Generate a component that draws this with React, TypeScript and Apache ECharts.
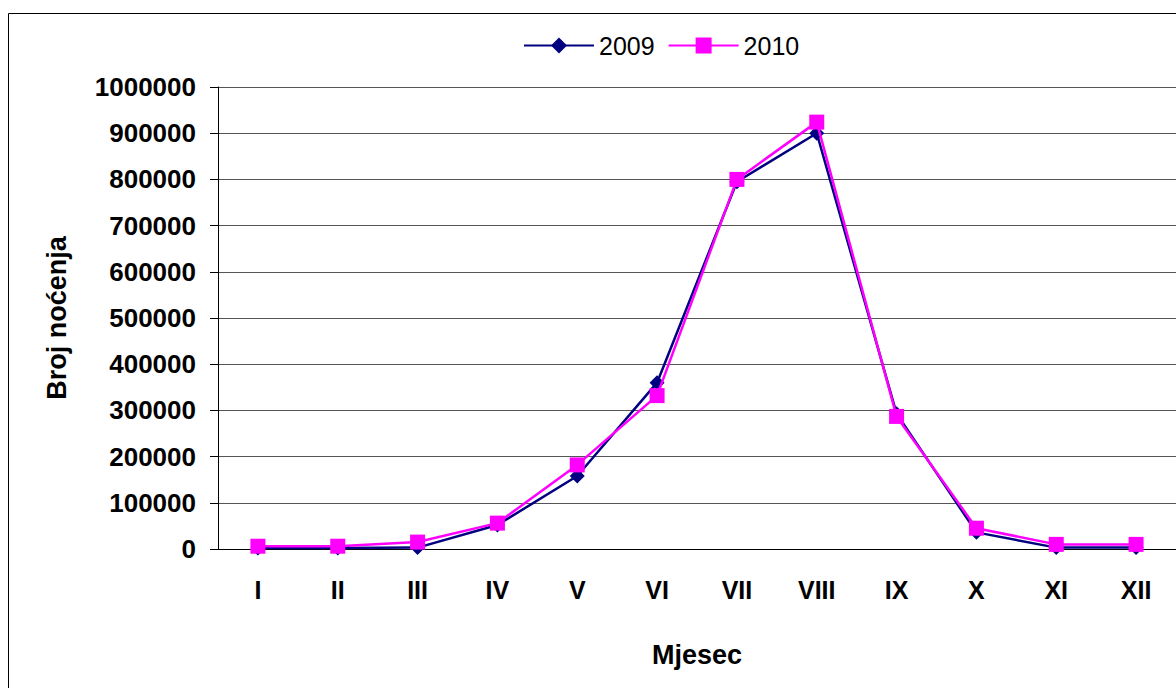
import React, { useEffect, useRef } from "react";
import * as echarts from "echarts";

const months = ["I", "II", "III", "IV", "V", "VI", "VII", "VIII", "IX", "X", "XI", "XII"];
const series2009 = [2000, 2000, 3000, 52000, 158000, 360000, 795000, 900000, 293000, 36000, 3000, 3000];
const series2010 = [6000, 6000, 15000, 56000, 182000, 332000, 800000, 924000, 287000, 45000, 10000, 10000];
const yTicks = { min: 0, max: 1000000, interval: 100000 };

const FONT = "'Liberation Sans', Arial, sans-serif";

export default function App() {
  const ref = useRef<HTMLDivElement>(null);
  useEffect(() => {
    if (!ref.current) return;
    const chart = echarts.init(ref.current, undefined, { renderer: "svg" });
    chart.setOption({
      animation: false,
      backgroundColor: "#ffffff",
      textStyle: { fontFamily: FONT },
      graphic: [
        {
          type: "rect",
          shape: { x: 8.5, y: 13.5, width: 1300, height: 800 },
          style: { fill: "none", stroke: "#000", lineWidth: 1 },
          silent: true,
        },
      ],
      legend: {
        top: 28,
        left: 518,
        itemWidth: 70,
        itemHeight: 20,
        itemGap: 13,
        textStyle: { fontSize: 25, color: "#000", fontFamily: FONT },
        data: ["2009", "2010"],
      },
      grid: { left: 218, right: 0, top: 87, bottom: 139, containLabel: false },
      xAxis: {
        type: "category",
        data: months,
        boundaryGap: true,
        name: "Mjesec",
        nameLocation: "middle",
        nameGap: 92,
        nameTextStyle: { fontSize: 27, fontWeight: "bold", color: "#000", fontFamily: FONT },
        axisLine: { lineStyle: { color: "#000", width: 1 } },
        axisTick: { length: 8, lineStyle: { color: "#000" } },
        axisLabel: { fontSize: 25, fontWeight: "bold", color: "#000", margin: 28, fontFamily: FONT },
      },
      yAxis: {
        type: "value",
        min: yTicks.min,
        max: yTicks.max,
        interval: yTicks.interval,
        name: "Broj noćenja",
        nameLocation: "middle",
        nameGap: 148,
        nameRotate: 90,
        nameTextStyle: { fontSize: 27, fontWeight: "bold", color: "#000", fontFamily: FONT },
        axisLine: { show: true, lineStyle: { color: "#000", width: 1 } },
        axisTick: { show: true, length: 8, lineStyle: { color: "#000" } },
        axisLabel: {
          fontSize: 26,
          fontWeight: "bold",
          color: "#000",
          margin: 22,
          fontFamily: FONT,
          formatter: (v: number) => String(v),
        },
        splitLine: { lineStyle: { color: "#555", width: 1 } },
      },
      series: [
        {
          name: "2009",
          type: "line",
          data: series2009,
          symbol: "diamond",
          symbolSize: 15,
          color: "#000080",
          lineStyle: { color: "#000080", width: 2.5 },
          itemStyle: { color: "#000080" },
          z: 2,
        },
        {
          name: "2010",
          type: "line",
          data: series2010,
          symbol: "rect",
          symbolSize: 15,
          color: "#FF00FF",
          lineStyle: { color: "#FF00FF", width: 2.5 },
          itemStyle: { color: "#FF00FF" },
          z: 3,
        },
      ],
    });
    return () => chart.dispose();
  }, []);
  return (
    <div
      ref={ref}
      style={{ position: "fixed", left: 0, top: 0, width: 1176, height: 688, background: "#fff" }}
    />
  );
}
